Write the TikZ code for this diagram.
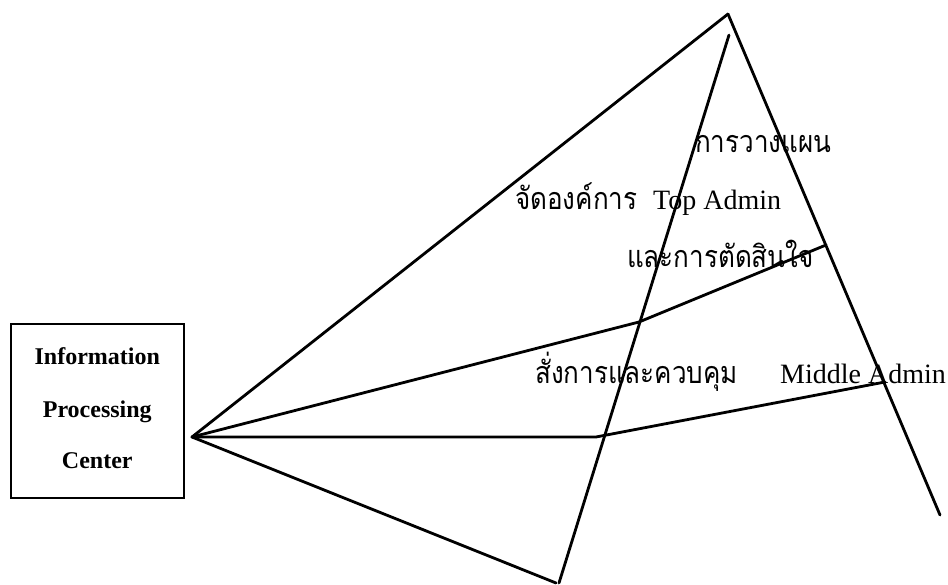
\documentclass[tikz,border=0pt]{standalone}
\usepackage{fontspec}
\setmainfont{Liberation Serif}
\newfontfamily\thaifont[Script=Thai]{Loma}
% Thai labels are set slightly tall and narrow
\newcommand{\thaitext}[1]{\scalebox{1.04}[1.22]{\thaifont\fontsize{25}{30}\selectfont #1}}
\begin{document}
\begin{tikzpicture}[x=1pt,y=-1pt,
  wire/.style={line width=2.8pt,line cap=round,line join=miter},
  ipcbox/.style={draw,line width=1.7pt,minimum width=173pt,minimum height=173.5pt,inner sep=0pt},
  boxtext/.style={anchor=base,inner sep=0pt,font=\bfseries\fontsize{24}{28}\selectfont},
  lbl/.style={anchor=base west,inner sep=0pt,font=\fontsize{28}{32}\selectfont},
  thailbl/.style={anchor=base west,inner sep=0pt}]
\useasboundingbox (0,0) rectangle (948,585);

% processing centre box
\node[ipcbox] (ipc) at (97.3,410.9) {};
\node[boxtext] (ipc1) at (97.3,365) {Information};
\node[boxtext] (ipc2) at (97.3,417) {Processing};
\node[boxtext] (ipc3) at (97.3,468) {Center};

% key points of the pyramid and the fan
\coordinate (hub) at (192,437);
\coordinate (apex) at (728,14);
\coordinate (ltop) at (729,35);
\coordinate (lbot) at (559,583);
\coordinate (rbot) at (940,515);
\coordinate (kink) at (639,322);
\coordinate (uend) at (826,245);
\coordinate (hend) at (596,437);
\coordinate (mend) at (885,382);
\coordinate (fbot) at (556,583);

% pyramid sides
\draw[wire] (ltop) -- (lbot);
\draw[wire] (apex) -- (rbot);

% fan of lines from the centre
\draw[wire] (hub) -- (apex);
\draw[wire] (hub) -- (kink) -- (uend);
\draw[wire] (hub) -- (hend) -- (mend);
\draw[wire] (hub) -- (fbot);

% labels
\node[thailbl] (plan) at (695,153) {\thaitext{การวางแผน}};
\node[thailbl] (org) at (515,210) {\thaitext{จัดองค์การ}};
\node[lbl] (top) at (653,210) {Top Admin};
\node[thailbl] (dec) at (627,268) {\thaitext{และการตัดสินใจ}};
\node[thailbl] (cmd) at (535,383) {\thaitext{สั่งการและควบคุม}};
\node[lbl] (mid) at (780,383) {Middle Admin};
\end{tikzpicture}
\end{document}
